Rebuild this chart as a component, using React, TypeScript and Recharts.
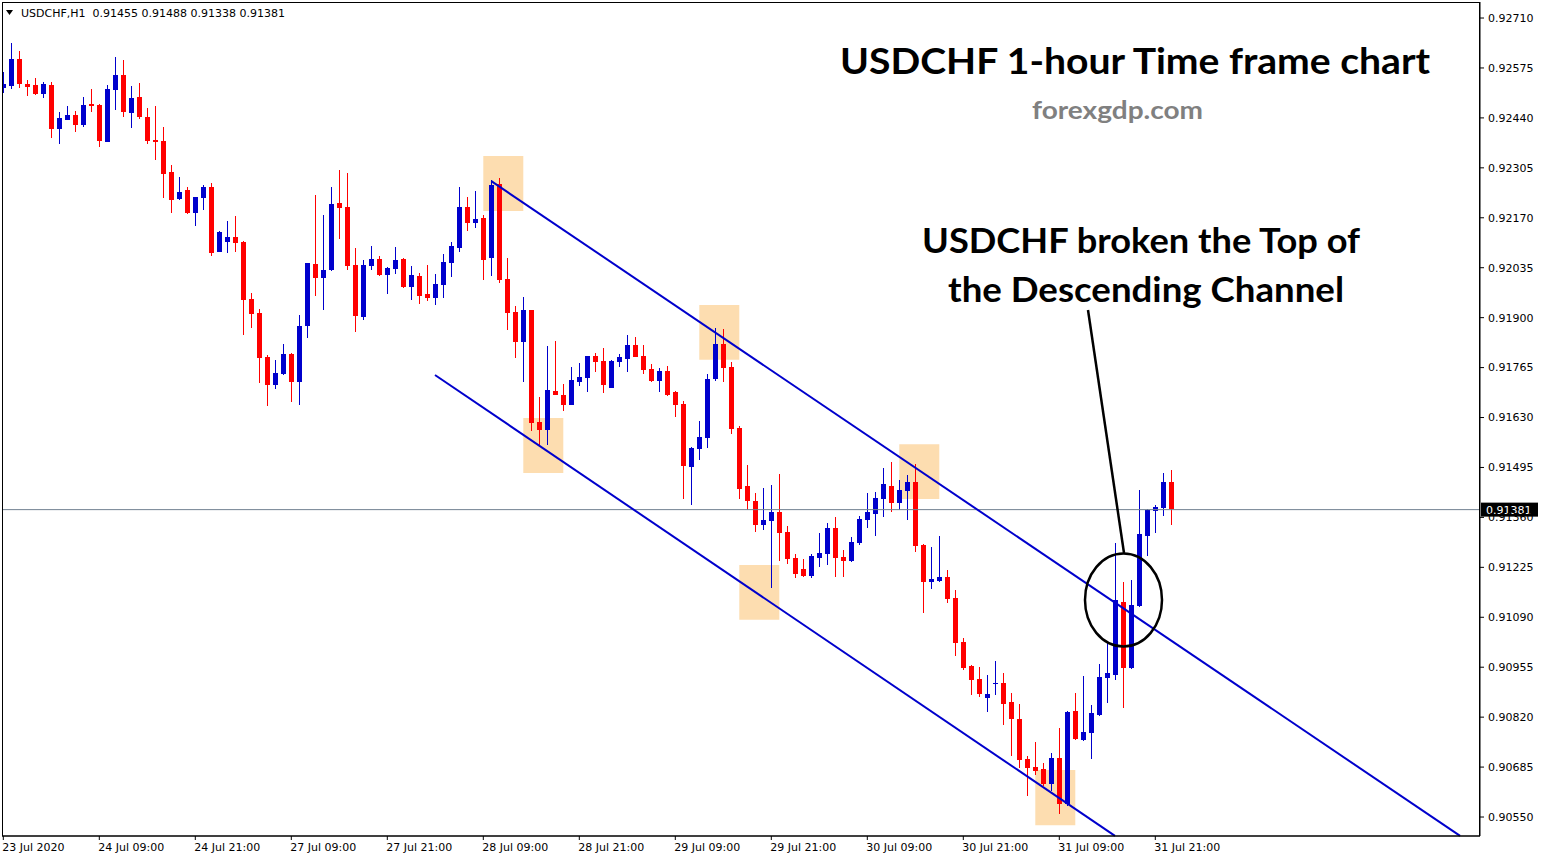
import {
  Bar,
  ComposedChart,
  ReferenceArea,
  ReferenceLine,
  XAxis,
  YAxis,
} from "recharts";

const BULL = "#0000CC";
const BEAR = "#FF0000";
const MT4_FONT = "'DejaVu Sans', Tahoma, sans-serif";
const TITLE_FONT = "Lato, 'Open Sans', sans-serif";

const SYMBOL = "USDCHF,H1";

// H1 bars from 23 Jul 21:00 to 31 Jul 23:00 (index 0..146)
const OPENS = [
  0.92522, 0.92527, 0.92599, 0.92532, 0.92529, 0.92505, 0.92529, 0.92411, 0.92435, 0.92448,
  0.92422, 0.92478, 0.92475, 0.92376, 0.92516, 0.92556, 0.92454, 0.92496, 0.92442, 0.9238,
  0.92378, 0.92294, 0.92221, 0.92245, 0.92183, 0.92223, 0.92253, 0.92077, 0.92104, 0.92118,
  0.92104, 0.9195, 0.91913, 0.91794, 0.91718, 0.91748, 0.91802, 0.91726, 0.91876, 0.92045,
  0.92008, 0.92029, 0.9221, 0.92199, 0.92042, 0.91902, 0.9204, 0.92059, 0.92015, 0.92031,
  0.92059, 0.91983, 0.92013, 0.91964, 0.91953, 0.91988, 0.92049, 0.92089, 0.92199, 0.92157,
  0.92169, 0.92061, 0.92261, 0.92004, 0.91915, 0.91834, 0.91921, 0.91618, 0.91596, 0.91702,
  0.91691, 0.91664, 0.91726, 0.91737, 0.91796, 0.91783, 0.9171, 0.9178, 0.91788, 0.91826,
  0.91796, 0.91761, 0.91729, 0.91756, 0.91699, 0.91667, 0.91496, 0.91545, 0.91575, 0.91734,
  0.91829, 0.91767, 0.91602, 0.91445, 0.91404, 0.91339, 0.9135, 0.91375, 0.9132, 0.9125,
  0.9122, 0.91202, 0.9125, 0.91261, 0.91331, 0.91253, 0.91242, 0.91291, 0.91353, 0.91369,
  0.9141, 0.91445, 0.91399, 0.91431, 0.91456, 0.91285, 0.91185, 0.91188, 0.91199, 0.91142,
  0.91023, 0.90958, 0.90923, 0.90872, 0.9091, 0.90912, 0.90861, 0.90815, 0.90707, 0.90685,
  0.9068, 0.90639, 0.9071, 0.90585, 0.90837, 0.90758, 0.90777, 0.90826, 0.90926, 0.90934,
  0.91131, 0.90953, 0.9112, 0.9131, 0.91377, 0.91385, 0.91455,
];

const HIGHS = [
  0.92565, 0.92642, 0.92621, 0.92542, 0.92548, 0.92537, 0.92537, 0.92456, 0.92472, 0.92459,
  0.92496, 0.92518, 0.92478, 0.92529, 0.92605, 0.92597, 0.92526, 0.92534, 0.92467, 0.92472,
  0.92415, 0.92313, 0.9228, 0.92253, 0.92226, 0.92259, 0.92264, 0.92134, 0.92161, 0.92175,
  0.92107, 0.91967, 0.91923, 0.91799, 0.91785, 0.91829, 0.91804, 0.91907, 0.92048, 0.92232,
  0.92177, 0.92253, 0.92299, 0.92291, 0.92088, 0.92056, 0.92094, 0.92067, 0.92037, 0.92091,
  0.92061, 0.9204, 0.92021, 0.92042, 0.92018, 0.92072, 0.92105, 0.92253, 0.92226, 0.92242,
  0.92177, 0.92272, 0.92277, 0.92061, 0.91931, 0.91956, 0.91922, 0.91685, 0.91823, 0.91837,
  0.91721, 0.91767, 0.91777, 0.91797, 0.91804, 0.91818, 0.91785, 0.91802, 0.91853, 0.91848,
  0.91826, 0.91775, 0.91764, 0.91769, 0.91702, 0.91675, 0.91549, 0.91621, 0.91748, 0.91872,
  0.9187, 0.9178, 0.91607, 0.91502, 0.91426, 0.91439, 0.91448, 0.91477, 0.91337, 0.91261,
  0.91248, 0.91261, 0.91318, 0.91345, 0.91361, 0.91272, 0.91307, 0.91364, 0.91426, 0.91429,
  0.91494, 0.9151, 0.91461, 0.91475, 0.91504, 0.91288, 0.9128, 0.9131, 0.91218, 0.91164,
  0.91034, 0.90961, 0.90956, 0.90934, 0.90972, 0.90939, 0.90885, 0.90856, 0.90715, 0.90753,
  0.90696, 0.90723, 0.90791, 0.90836, 0.90885, 0.90931, 0.90853, 0.90964, 0.9102, 0.91291,
  0.91185, 0.91191, 0.91434, 0.91382, 0.91393, 0.9148, 0.91488,
];

const LOWS = [
  0.92509, 0.92517, 0.92522, 0.92499, 0.92502, 0.92495, 0.92386, 0.9237, 0.92433, 0.92403,
  0.92416, 0.92457, 0.92362, 0.92374, 0.92462, 0.92443, 0.92413, 0.92438, 0.9237, 0.92326,
  0.92223, 0.92183, 0.92218, 0.9218, 0.92148, 0.92191, 0.92067, 0.92076, 0.92075, 0.92077,
  0.91853, 0.91872, 0.91723, 0.91661, 0.91707, 0.91746, 0.91672, 0.91664, 0.91845, 0.91958,
  0.91921, 0.92027, 0.92113, 0.92029, 0.91861, 0.91894, 0.92029, 0.92013, 0.91964, 0.92018,
  0.9198, 0.91948, 0.91937, 0.91945, 0.91934, 0.91953, 0.92011, 0.92078, 0.92134, 0.92142,
  0.92002, 0.92013, 0.91994, 0.91867, 0.91791, 0.91726, 0.91596, 0.91556, 0.91556, 0.9169,
  0.91648, 0.91663, 0.91715, 0.91699, 0.91753, 0.91696, 0.91709, 0.91767, 0.91753, 0.91793,
  0.91748, 0.91726, 0.91699, 0.91688, 0.91631, 0.9141, 0.91391, 0.91515, 0.91548, 0.91729,
  0.91726, 0.91585, 0.9141, 0.9138, 0.9132, 0.91326, 0.91169, 0.91242, 0.91234, 0.91196,
  0.91199, 0.91196, 0.91226, 0.91231, 0.91199, 0.91199, 0.91239, 0.91285, 0.91331, 0.9131,
  0.91361, 0.91375, 0.9138, 0.91353, 0.91266, 0.91102, 0.91166, 0.91185, 0.91129, 0.90985,
  0.90947, 0.9088, 0.90874, 0.90834, 0.9088, 0.90799, 0.90715, 0.90682, 0.90607, 0.90664,
  0.90634, 0.9062, 0.90558, 0.9058, 0.90758, 0.90755, 0.90707, 0.90823, 0.90858, 0.9092,
  0.90845, 0.90951, 0.91118, 0.91256, 0.91318, 0.91364, 0.91338,
];

const CLOSES = [
  0.92532, 0.92599, 0.92532, 0.92524, 0.92505, 0.92532, 0.92411, 0.9244, 0.92448, 0.92422,
  0.92475, 0.92473, 0.92378, 0.92518, 0.92556, 0.92457, 0.92494, 0.92441, 0.92378, 0.92375,
  0.92288, 0.92219, 0.9224, 0.92183, 0.92226, 0.92253, 0.92075, 0.92132, 0.92118, 0.92102,
  0.91948, 0.9191, 0.91791, 0.91718, 0.9175, 0.91802, 0.91726, 0.91877, 0.92047, 0.92008,
  0.92029, 0.92207, 0.92197, 0.9204, 0.91904, 0.92042, 0.92059, 0.92015, 0.92034, 0.92056,
  0.91983, 0.92015, 0.91958, 0.91953, 0.91991, 0.9205, 0.92094, 0.92199, 0.92157, 0.92167,
  0.92056, 0.92259, 0.92002, 0.91913, 0.91834, 0.91921, 0.91615, 0.91596, 0.91704, 0.91691,
  0.91664, 0.91731, 0.9174, 0.91796, 0.9178, 0.91718, 0.91783, 0.91794, 0.91826, 0.91794,
  0.91758, 0.91729, 0.91756, 0.91691, 0.91664, 0.91499, 0.91548, 0.91577, 0.91734, 0.91829,
  0.91764, 0.91599, 0.91437, 0.91404, 0.91339, 0.91353, 0.91375, 0.91318, 0.91248, 0.91207,
  0.91202, 0.91256, 0.91264, 0.91331, 0.9125, 0.91242, 0.91293, 0.91356, 0.91375, 0.91412,
  0.9145, 0.91399, 0.91434, 0.91456, 0.91283, 0.91185, 0.91193, 0.91199, 0.91139, 0.9102,
  0.90953, 0.9092, 0.90883, 0.90883, 0.90912, 0.90856, 0.90815, 0.90704, 0.90682, 0.90674,
  0.90639, 0.9071, 0.90585, 0.90834, 0.90761, 0.9078, 0.90831, 0.90928, 0.90939, 0.91137,
  0.90953, 0.91123, 0.91315, 0.9138, 0.91388, 0.91455, 0.91381,
];

// one label every 12 bars
const TIME_LABELS = [
  "23 Jul 2020", "24 Jul 09:00", "24 Jul 21:00", "27 Jul 09:00", "27 Jul 21:00",
  "28 Jul 09:00", "28 Jul 21:00", "29 Jul 09:00", "29 Jul 21:00", "30 Jul 09:00",
  "30 Jul 21:00", "31 Jul 09:00", "31 Jul 21:00",
];
const LABEL_STEP = 12;

const PRICE_TICKS = [
  0.9055, 0.90685, 0.9082, 0.90955, 0.9109, 0.91225, 0.9136, 0.91495, 0.9163,
  0.91765, 0.919, 0.92035, 0.9217, 0.92305, 0.9244, 0.92575, 0.9271,
];

// drawn objects: channel lines (bar index, price) and touch boxes
const UPPER_CHANNEL = [{ x: 61, y: 0.92269 }, { x: 182.1, y: 0.90499 }];
const LOWER_CHANNEL = [{ x: 53.96, y: 0.91745 }, { x: 138.96, y: 0.90499 }];
const TOUCH_BOXES = [
  { x1: 60, x2: 65, y1: 0.92188, y2: 0.92337 },
  { x1: 65, x2: 70, y1: 0.9148, y2: 0.91629 },
  { x1: 87, x2: 92, y1: 0.91786, y2: 0.91934 },
  { x1: 92, x2: 97, y1: 0.91083, y2: 0.91231 },
  { x1: 112, x2: 117, y1: 0.9141, y2: 0.91558 },
  { x1: 129, x2: 134, y1: 0.90528, y2: 0.90677 },
];

const data = OPENS.map((open, i) => ({
  i,
  open,
  high: HIGHS[i],
  low: LOWS[i],
  close: CLOSES[i],
  range: [LOWS[i], HIGHS[i]],
}));

const last = data[data.length - 1];

function Candle(props: any) {
  const { x, y, width, height, payload } = props;
  if (payload == null || !Number.isFinite(x) || !Number.isFinite(y)) return null;
  const top = Math.min(y, y + height);
  const h = Math.abs(height);
  const span = payload.high - payload.low;
  const ppu = span > 0 ? h / span : 0;
  const yOpen = top + (payload.high - payload.open) * ppu;
  const yClose = top + (payload.high - payload.close) * ppu;
  const color = payload.close >= payload.open ? BULL : BEAR;
  const cx = Math.round(x + width / 2);
  const bodyTop = Math.round(Math.min(yOpen, yClose));
  const bodyH = Math.max(1, Math.round(Math.abs(yOpen - yClose)));
  return (
    <g>
      <rect x={cx} y={Math.round(top)} width={1} height={Math.max(1, Math.round(h))} fill={color} />
      <rect x={cx - 2} y={bodyTop} width={5} height={bodyH} fill={color} />
    </g>
  );
}

function TimeTick(props: any) {
  const { x, y, payload } = props;
  const label = TIME_LABELS[Math.round(payload.value / LABEL_STEP)];
  return (
    <text x={x - 1} y={y + 1} dy="0.71em" textAnchor="start" fontSize={11} fontFamily={MT4_FONT} fill="#000">
      {label}
    </text>
  );
}

function PriceTag(props: any) {
  const { viewBox, price } = props;
  if (!viewBox) return null;
  const x = viewBox.x + viewBox.width + 1;
  const y = viewBox.y;
  return (
    <g>
      <rect x={x} y={y - 7} width={57} height={14} fill="#000" />
      <text x={x + 5} y={y} dy="0.355em" fontSize={11} fontFamily={MT4_FONT} fill="#fff">
        {price}
      </text>
    </g>
  );
}

export default function App() {
  return (
    <div style={{ position: "absolute", left: 0, top: 0, width: 1545, height: 860, background: "#fff" }}>
      <ComposedChart
        width={1545}
        height={860}
        data={data}
        margin={{ top: 2, right: 0, bottom: 0, left: 2 }}
      >
        <XAxis
          dataKey="i"
          type="number"
          domain={[-0.1625, 184.5875]}
          allowDataOverflow
          ticks={TIME_LABELS.map((_, k) => k * LABEL_STEP)}
          interval={0}
          tick={<TimeTick />}
          tickSize={4}
          height={24}
          stroke="#000"
        />
        <YAxis
          orientation="right"
          type="number"
          domain={[0.904987, 0.927533]}
          allowDataOverflow
          ticks={PRICE_TICKS}
          interval={0}
          tickFormatter={(v) => Number(v).toFixed(5)}
          tick={{ fill: "#000", fontSize: 11, fontFamily: MT4_FONT }}
          tickSize={4}
          tickMargin={4}
          width={65}
          stroke="#000"
        />
        {TOUCH_BOXES.map((b, k) => (
          <ReferenceArea
            key={k}
            x1={b.x1}
            x2={b.x2}
            y1={b.y1}
            y2={b.y2}
            fill="#FDDDB0"
            fillOpacity={1}
            stroke="none"
          />
        ))}
        <ReferenceLine
          y={last.close}
          stroke="#708090"
          strokeWidth={1}
          label={<PriceTag price={last.close.toFixed(5)} />}
        />
        <Bar
          dataKey="range"
          barSize={5}
          shape={(p: any) => <Candle {...p} />}
          isAnimationActive={false}
        />
        <ReferenceLine segment={UPPER_CHANNEL} stroke={BULL} strokeWidth={2} />
        <ReferenceLine segment={LOWER_CHANNEL} stroke={BULL} strokeWidth={2} />
      </ComposedChart>

      <svg
        width={1545}
        height={860}
        style={{ position: "absolute", left: 0, top: 0, pointerEvents: "none" }}
      >
        <rect x={2.5} y={2.5} width={1477} height={833.5} fill="none" stroke="#000" strokeWidth={1} />
        <polygon points="6,10 13,10 9.5,15" fill="#000" />
        <text x={21} y={17} fontSize={11} fontFamily={MT4_FONT} fill="#000" xmlSpace="preserve">
          {`${SYMBOL}  ${last.open.toFixed(5)} ${last.high.toFixed(5)} ${last.low.toFixed(5)} ${last.close.toFixed(5)}`}
        </text>
        <text x={840} y={74} fontSize={36} fontWeight={700} fontFamily={TITLE_FONT} fill="#000" textLength={590} lengthAdjust="spacingAndGlyphs">
          USDCHF 1-hour Time frame chart
        </text>
        <text x={1032} y={119} fontSize={25} fontWeight={700} fontFamily={TITLE_FONT} fill="#808080" textLength={171} lengthAdjust="spacingAndGlyphs">
          forexgdp.com
        </text>
        <text x={922} y={253} fontSize={34} fontWeight={700} fontFamily={TITLE_FONT} fill="#000" textLength={438} lengthAdjust="spacingAndGlyphs">
          USDCHF broken the Top of
        </text>
        <text x={948} y={302} fontSize={34} fontWeight={700} fontFamily={TITLE_FONT} fill="#000" textLength={396} lengthAdjust="spacingAndGlyphs">
          the Descending Channel
        </text>
        <line x1={1088} y1={310} x2={1124} y2={553} stroke="#000" strokeWidth={2.5} />
        <ellipse cx={1123.5} cy={600} rx={38.5} ry={46.5} fill="none" stroke="#000" strokeWidth={2.5} />
      </svg>
    </div>
  );
}
